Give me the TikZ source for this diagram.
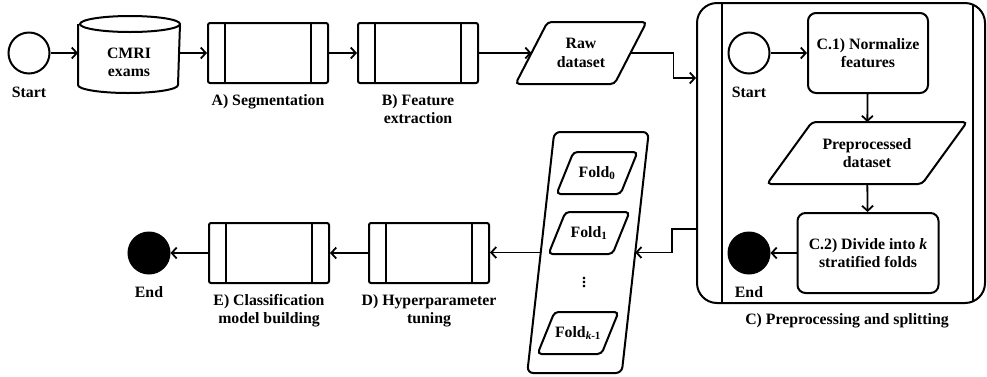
\documentclass[tikz,border=0pt]{standalone}
\usepackage{fontspec}
\setmainfont{Liberation Serif}
\usetikzlibrary{arrows.meta,positioning}
\newcommand{\slantbox}[3]{\draw[rounded corners=#3] ([xshift=#2]#1.north west) -- ([xshift=#2]#1.north east) -- ([xshift=-#2]#1.south east) -- ([xshift=-#2]#1.south west) -- cycle;}

\begin{document}
\begin{tikzpicture}[x=1pt,y=-1pt,line width=2pt,
  every node/.style={font=\fontsize{15.8}{18.5}\selectfont\bfseries,align=center},
  arr/.style={-{Straight Barb[length=5pt,width=11pt]},line width=1.8pt},
  circ/.style={draw,circle,minimum size=41pt,inner sep=0pt},
  proc/.style={draw,rounded corners=2pt,minimum width=120pt,minimum height=60pt,
    path picture={\draw ([xshift=17pt]path picture bounding box.north west) -- ([xshift=17pt]path picture bounding box.south west)
      ([xshift=-17pt]path picture bounding box.north east) -- ([xshift=-17pt]path picture bounding box.south east);}},
  para/.style={inner sep=0pt}]
  \useasboundingbox (0,0) rectangle (987,376);
  \node[circ] (st) at (29,53) {};
  \node[below=8pt of st] {Start};
  \node[minimum width=100pt,minimum height=59pt,inner sep=0pt] (cmri) at (129,62.5) {CMRI\\exams};
  \draw ([yshift=8pt]cmri.north west) -- ([yshift=8pt]cmri.south west) arc[start angle=180,end angle=360,x radius=50pt,y radius=8pt]
    -- ([yshift=8pt]cmri.north east) arc[start angle=0,end angle=180,x radius=50pt,y radius=8pt] arc[start angle=180,end angle=360,x radius=50pt,y radius=8pt];
  \node[proc] (a) at (268,53) {};
  \node[below=6pt of a] {A) Segmentation};
  \node[proc] (b) at (418,53) {};
  \node[below=6pt of b] {B) Feature\\extraction};
  \node[para,minimum width=97pt,minimum height=60pt] (raw) at (581,53) {Raw\\dataset};
  \slantbox{raw}{16pt}{4pt}
  \node[draw,rounded corners=20pt,minimum width=288pt,minimum height=300pt,
    path picture={\draw ([xshift=25pt]path picture bounding box.north west) -- ([xshift=25pt]path picture bounding box.south west)
      ([xshift=-12pt]path picture bounding box.north east) -- ([xshift=-12pt]path picture bounding box.south east);}] (prep) at (841,153) {};
  \node[below=5pt of prep,xshift=6pt] {C) Preprocessing and splitting};
  \node[circ] (s2) at (749,53) {};
  \node[below=8pt of s2] {Start};
  \node[draw,rounded corners=8pt,minimum width=120pt,minimum height=80pt] (c1) at (868,53) {C.1) Normalize\\features};
  \node[para,minimum width=153pt,minimum height=60pt] (pre) at (867,153) {Preprocessed\\dataset};
  \slantbox{pre}{22.5pt}{4pt}
  \node[draw,rounded corners=8pt,minimum width=141pt,minimum height=80pt] (c2) at (868,253) {C.2) Divide into \textit{k}\\stratified folds};
  \node[circ,fill] (e2) at (749,253) {};
  \node[below=8pt of e2] {End};
  \node[para,minimum width=92.5pt,minimum height=239pt] (folds) at (588,252.5) {};
  \slantbox{folds}{13.5pt}{6pt}
  \node[para,minimum width=62pt,minimum height=40pt] (f0) at (597,173) {Fold\textsubscript{0}};
  \slantbox{f0}{8.5pt}{4pt}
  \node[para,minimum width=62pt,minimum height=40pt] (f1) at (589,233) {Fold\textsubscript{1}};
  \slantbox{f1}{8.5pt}{4pt}
  \node[font=\fontsize{22}{22}\selectfont] (dots) at (584,280) {$\vdots$};
  \node[para,minimum width=62pt,minimum height=40pt] (fk) at (578,333) {Fold\textsubscript{\textit{k}-1}};
  \slantbox{fk}{8.5pt}{4pt}
  \node[proc] (d) at (429,253) {};
  \node[below=6pt of d] {D) Hyperparameter\\tuning};
  \node[proc] (e) at (269,253) {};
  \node[below=6pt of e] {E) Classification\\model building};
  \node[circ,fill] (en) at (149,253) {};
  \node[below=8pt of en] {End};
  \draw[arr] (st) -- (st -| cmri.west);
  \draw[arr] (cmri.east |- a) -- (a);
  \draw[arr] (a) -- (b);
  \draw[arr] (b) -- (raw);
  \draw[arr] (raw.east) -- ++(43,0) |- ([yshift=-76pt]prep.north west);
  \draw[arr] (s2) -- (c1);
  \draw[arr] (c1) -- (pre);
  \draw[arr] (pre) -- (c2);
  \draw[arr] (c2) -- (e2);
  \draw[arr] ([yshift=75pt]prep.south west) -- ++(-24,0) |- (folds.east);
  \draw[arr] (folds.west) -- (d.east |- folds.west);
  \draw[arr] (d) -- (e);
  \draw[arr] (e) -- (en);
\end{tikzpicture}
\end{document}
